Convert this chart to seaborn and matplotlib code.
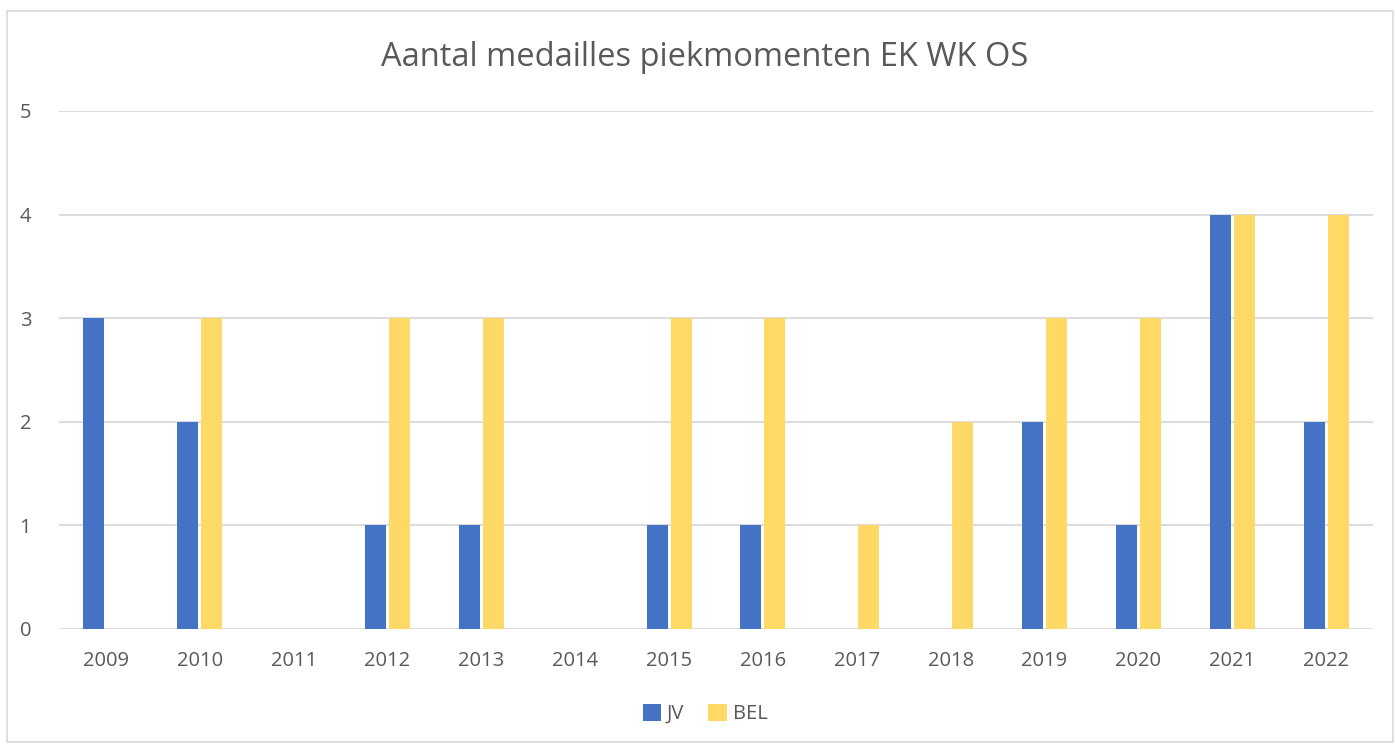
#!/usr/bin/env python3
# coding: utf-8

import seaborn as sns
import matplotlib
from matplotlib import pyplot as plt
from matplotlib.patches import Rectangle
import pandas as pd

years = ["2009", "2010", "2011", "2012", "2013", "2014", "2015",
         "2016", "2017", "2018", "2019", "2020", "2021", "2022"]
jv = [3, 2, 0, 1, 1, 0, 1, 1, 0, 0, 2, 1, 4, 2]
bel = [0, 3, 0, 3, 3, 0, 3, 3, 1, 2, 3, 3, 4, 4]
series = ["JV", "BEL"]
colors = ["#4472C4", "#FFD966"]

df = pd.DataFrame({
    "jaar": years * 2,
    "medailles": jv + bel,
    "reeks": ["JV"] * len(years) + ["BEL"] * len(years),
})

sns.set_style("white")
plt.rcParams['font.family'] = ['Open Sans', 'DejaVu Sans']
text_col = "#595959"

fig = plt.figure(figsize=[13.95, 7.44], dpi=100)
ax = fig.add_axes([59 / 1395, 115 / 744, 1314 / 1395, 518 / 744])

sns.barplot(data=df, x="jaar", y="medailles", hue="reeks", hue_order=series,
            palette=colors, width=0.51, gap=0.12, ax=ax, legend=True,
            saturation=1, linewidth=0)

ax.set_ylim(0, 5)
ax.set_xlim(-0.5, len(years) - 0.5)
ax.set_yticks(range(6))
ax.yaxis.grid(True, color="#D9D9D9", linewidth=1.3)
ax.set_axisbelow(True)
for s in ax.spines.values():
    s.set_visible(False)
ax.set_xlabel("")
ax.set_ylabel("")
ax.tick_params(axis="both", length=0, labelsize=14.5, labelcolor=text_col)
ax.tick_params(axis="x", pad=16)
ax.tick_params(axis="y", pad=20)

fig.text(705 / 1395, 1 - 57 / 744, "Aantal medailles piekmomenten EK WK OS",
         ha="center", va="center", fontsize=23.5, color=text_col)

leg = ax.legend(loc="center", bbox_to_anchor=(705 / 1395, 1 - 714 / 744),
                bbox_transform=fig.transFigure, ncol=2, frameon=False,
                fontsize=14.5, handlelength=0.9, handleheight=0.9,
                handletextpad=0.3, columnspacing=1.2)
for t in leg.get_texts():
    t.set_color(text_col)

fig.patches.append(Rectangle((7 / 1395, 2 / 744), 1386 / 1395, 731 / 744,
                             transform=fig.transFigure, fill=False,
                             edgecolor="#D9D9D9", linewidth=1.2))

plt.savefig("out.png", dpi=100)
